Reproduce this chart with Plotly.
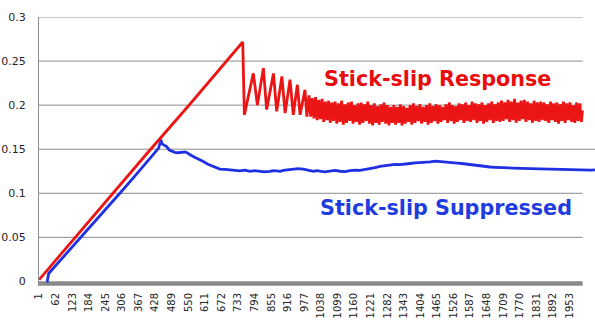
import plotly.graph_objects as go

# Category labels shown on the x axis (every 61st sample)
tick_labels = ["1", "62", "123", "184", "245", "306", "367", "428", "489", "550",
               "611", "672", "733", "794", "855", "916", "977", "1038", "1099",
               "1160", "1221", "1282", "1343", "1404", "1465", "1526", "1587",
               "1648", "1709", "1770", "1831", "1892", "1953"]
tick_pos = [int(t) for t in tick_labels]
y_ticks = [0, 0.05, 0.1, 0.15, 0.2, 0.25, 0.3]
y_labels = ["0", "0.05", "0.1", "0.15", "0.2", "0.25", "0.3"]

# Stick-slip response: loading ramp, slip and first large stick-slip cycles
resp_x = [1, 120, 250, 400, 550, 650, 750, 756, 789, 804, 826, 838, 863, 875,
          894, 906, 924, 936, 951, 961, 979, 986]
resp_y = [0.002, 0.045, 0.091, 0.146, 0.199, 0.235, 0.2716, 0.189, 0.236, 0.200,
          0.242, 0.195, 0.236, 0.193, 0.2325, 0.191, 0.2288, 0.189, 0.2231, 0.189,
          0.2174, 0.187]

# Sustained stick-slip: peak and trough values of each cycle
resp_peaks = [0.211, 0.208, 0.209, 0.206, 0.207, 0.204, 0.205, 0.203,
              0.204, 0.202, 0.205, 0.201, 0.203, 0.204, 0.200, 0.202, 0.203, 0.201,
              0.204, 0.200, 0.202, 0.199, 0.201, 0.203, 0.200, 0.198,
              0.200, 0.198, 0.201, 0.199, 0.197, 0.200, 0.202, 0.199, 0.201, 0.198,
              0.200, 0.202, 0.199, 0.201, 0.200, 0.198, 0.201, 0.203, 0.200, 0.199,
              0.202, 0.201, 0.203, 0.200, 0.204, 0.202, 0.201, 0.203, 0.200, 0.202,
              0.204, 0.201, 0.203,
              0.205, 0.203, 0.206, 0.204, 0.207, 0.203, 0.205, 0.206, 0.204, 0.202,
              0.205, 0.203, 0.204,
              0.203, 0.201, 0.204, 0.202, 0.203, 0.201, 0.204, 0.202, 0.203, 0.200,
              0.203, 0.202]
resp_troughs = [0.187, 0.185, 0.183, 0.184, 0.181, 0.183, 0.180, 0.182,
                0.179, 0.181, 0.178, 0.180, 0.182, 0.179, 0.181, 0.178, 0.180, 0.182,
                0.179, 0.177, 0.180, 0.178, 0.181, 0.179, 0.177, 0.180,
                0.178, 0.180, 0.177, 0.179, 0.181, 0.178, 0.180, 0.182, 0.179, 0.181,
                0.178, 0.180, 0.182, 0.179, 0.181, 0.183, 0.180, 0.182, 0.179, 0.181,
                0.183, 0.180, 0.182, 0.181, 0.183, 0.180, 0.182, 0.179, 0.181, 0.183,
                0.180, 0.182, 0.181,
                0.182, 0.184, 0.181, 0.183, 0.180, 0.182, 0.184, 0.181, 0.183, 0.180,
                0.182, 0.181, 0.183,
                0.182, 0.180, 0.183, 0.181, 0.179, 0.182, 0.180, 0.183, 0.181, 0.180,
                0.182, 0.181]
cycle_start = 994   # sample index of the first sustained-cycle peak
cycle_len = 12      # samples per stick-slip cycle
resp_end = (2000, 0.194)

# Suppressed case
supp_x = [28, 31, 36, 100, 158, 220, 298, 360, 420, 440, 446, 449, 453, 458, 470,
          480, 489, 500, 513, 525, 538, 548, 556, 575, 593, 605, 622, 642, 666, 685,
          703, 722, 740, 758, 777, 793, 810, 830, 850, 862, 875, 888, 899, 917, 935,
          954, 973, 990, 1010, 1022, 1034, 1052, 1070, 1090, 1108, 1127, 1145, 1163,
          1181, 1196, 1210, 1237, 1255, 1272, 1290, 1310, 1329, 1347, 1365, 1384,
          1402, 1421, 1440, 1458, 1476, 1500, 1524, 1540, 1555, 1570, 1586, 1603,
          1620, 1640, 1660, 1680, 1700, 1722, 1744, 1772, 1800, 1834, 1868, 1886,
          1905, 1924, 1942, 1961, 1980, 1998, 2016, 2031, 2046]
supp_y = [0.0, 0.0, 0.009, 0.031, 0.051, 0.073, 0.100, 0.122, 0.143, 0.151, 0.157,
          0.161, 0.156, 0.155, 0.153, 0.149, 0.1475, 0.1465, 0.146, 0.1465, 0.147,
          0.1455, 0.1437, 0.1405, 0.138, 0.136, 0.133, 0.1305, 0.1275, 0.1272,
          0.1267, 0.1261, 0.1255, 0.1262, 0.1248, 0.1257, 0.1252, 0.1244, 0.1248,
          0.1258, 0.1255, 0.1249, 0.1259, 0.1266, 0.1268, 0.1279, 0.1275, 0.1262,
          0.1248, 0.1256, 0.1248, 0.1243, 0.1252, 0.1259, 0.125, 0.1246, 0.1256,
          0.1263, 0.126, 0.1268, 0.1272, 0.129, 0.1305, 0.1312, 0.1315, 0.1327,
          0.1324, 0.1335, 0.1338, 0.1346, 0.135, 0.1347, 0.1356, 0.1364, 0.1361,
          0.1357, 0.135, 0.1343, 0.1338, 0.1331, 0.1324, 0.1318, 0.131, 0.1304,
          0.1298, 0.1295, 0.129, 0.1291, 0.1286, 0.1283, 0.128, 0.1278, 0.1275,
          0.1271, 0.127, 0.1268, 0.1267, 0.1264, 0.1262, 0.1259, 0.1259, 0.1262,
          0.1266]

RED = "#ec1515"
BLUE = "#1f30e2"
GRID = "#8c8c8c"
N_CAT = 2000

# assemble the response series
rx = list(resp_x)
ry = list(resp_y)
for k, (pk, tr) in enumerate(zip(resp_peaks, resp_troughs)):
    rx += [cycle_start + k * cycle_len, cycle_start + k * cycle_len + cycle_len // 2]
    ry += [pk, tr]
rx.append(resp_end[0])
ry.append(resp_end[1])

fig = go.Figure()
fig.add_trace(go.Scatter(x=supp_x, y=supp_y, mode="lines",
                         line=dict(color=BLUE, width=2.8), hoverinfo="skip"))
fig.add_trace(go.Scatter(x=rx, y=ry, mode="lines",
                         line=dict(color=RED, width=2.8), hoverinfo="skip"))

shapes = []
for v in y_ticks[1:]:
    x1 = 2046 if v == 0.15 else N_CAT + 0.5
    shapes.append(dict(type="line", xref="x", yref="y", x0=0.5, x1=x1, y0=v, y1=v,
                       line=dict(color=GRID, width=1), layer="below"))
# thick category axis bar
shapes.append(dict(type="rect", xref="x", yref="y", x0=0.5, x1=N_CAT + 0.5,
                   y0=-0.0048, y1=0.0003, fillcolor="#8a8a8a", line=dict(width=0),
                   layer="below"))
fig.update_layout(shapes=shapes)

fig.add_annotation(x=(322 - 39) / 556, xref="paper", y=0.230, yref="y",
                   text="<b>Stick-slip Response</b>", showarrow=False,
                   xanchor="left", yanchor="middle",
                   font=dict(family="DejaVu Sans", size=20.7, color="#e80c0c"))
fig.add_annotation(x=(318 - 39) / 556, xref="paper", y=0.0835, yref="y",
                   text="<b>Stick-slip Suppressed</b>", showarrow=False,
                   xanchor="left", yanchor="middle",
                   font=dict(family="DejaVu Sans", size=20.7, color="#1e3ce0"))

fig.update_layout(
    width=595, height=326,
    margin=dict(l=39, r=0, t=17.3, b=40),
    paper_bgcolor="white", plot_bgcolor="white",
    showlegend=False,
    font=dict(family="DejaVu Sans", size=10, color="#262626"),
    xaxis=dict(range=[0.5, 2046], tickmode="array", tickvals=tick_pos,
               ticktext=tick_labels, tickangle=-90, showgrid=False,
               zeroline=False, showline=False, ticks="", ticklabelstandoff=4,
               tickfont=dict(size=10)),
    yaxis=dict(range=[-0.0052, 0.3], tickmode="array", tickvals=y_ticks,
               ticktext=y_labels, showgrid=False, zeroline=False,
               showline=True, linecolor=GRID, linewidth=1, ticks="",
               ticklabelstandoff=10, tickfont=dict(size=11)),
)

fig.write_html("out.html")
